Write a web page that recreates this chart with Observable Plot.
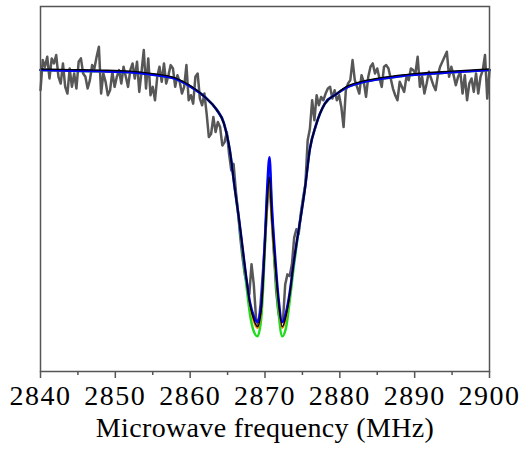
<!DOCTYPE html>
<html>
<head>
<meta charset="utf-8">
<script src="https://cdn.jsdelivr.net/npm/d3@7"></script>
<script src="https://cdn.jsdelivr.net/npm/@observablehq/plot@0.6"></script>
<style>
  body { margin: 0; background: #fff; }
  #chart svg, #chart svg text { font-family: 'Liberation Serif', 'DejaVu Serif', serif !important; }
  #chart g[aria-label="x-axis tick label"] text { letter-spacing: 1.5px; }
  #chart g[aria-label="text"] text { letter-spacing: 0.35px; }
</style>
</head>
<body>
<div id="chart"></div>
<script>
// ---- Data (normalized PL, arbitrary units x1000) ----
const sweepStart = 2840;   // MHz
const sweepStep = 0.3;     // MHz

// measured ODMR signal (gray)
const measuredPL = [
  988, 1006, 1002, 1008, 995, 1007, 1004, 1009, 996, 992, 1004, 990, 986, 1001, 990, 998, 989, 1005, 1007, 998, 996, 989, 994, 1003, 1001, 1008, 1014, 986, 998, 993, 985, 988, 999, 990, 996, 1000,
  992, 1002, 996, 990, 1000, 1004, 995, 1005, 987, 999, 1012, 989, 1007, 985, 990, 982, 996, 1002, 993, 1004, 992, 997, 1003, 1001, 990, 997, 993, 986, 990, 1003, 982, 985,
  980, 996, 998, 983, 979, 986, 974, 960, 962, 972, 963, 969, 966, 955, 957, 963, 950, 940,
  944, 928, 915, 900, 888, 878, 872, 866, 884, 872, 852, 847, 860, 878, 898, 920, 934, 912, 890, 868, 855, 849, 850, 872, 878, 877, 884, 900,
  905, 902, 915, 924, 932, 958, 965, 982, 970, 985, 979, 984, 982, 986, 989, 990, 983, 988, 982, 985, 978, 966, 988, 992,
  994, 1006, 994, 990, 986, 997, 993, 984, 996, 1002, 1004, 998, 1001, 995, 990, 1002, 1003, 1001, 995, 989, 985, 982, 993, 990, 987, 996, 994, 1001, 1000, 998, 1008,
  990, 996, 986, 992, 999, 995, 991, 988, 997, 1002, 1005, 1008, 1011, 996, 1002, 997, 991, 996, 999, 986, 997, 982, 992, 995, 987, 998, 986, 996, 1000, 1009, 983, 1000
];

// fitted curves, read at these frequencies
const fitFreq = [2840, 2844, 2848, 2852, 2855, 2858, 2860, 2862, 2863.5, 2864.5, 2865.3, 2866, 2866.5, 2867, 2867.5, 2868, 2868.5, 2869, 2869.5, 2870, 2870.3, 2870.6, 2870.9, 2871.3, 2871.8, 2872.3, 2872.8, 2873.3, 2873.8, 2874.3, 2874.8, 2875.3, 2876, 2876.8, 2878, 2879.5, 2881, 2883, 2886, 2890, 2895, 2900];
const fitGreen = [1000, 999.6, 999.3, 998.7, 997.2, 994.8, 990.3, 983.8, 976.6, 968.3, 952, 928, 911, 892, 872, 854, 844, 841, 852, 895, 926, 942, 916, 886, 856, 841, 846, 862, 881, 898, 913, 928, 953, 967, 980, 985.6, 989.8, 992.7, 995.1, 997.2, 998.7, 1000];
const fitOrange = [1000, 999.6, 999.3, 998.7, 997.2, 994.8, 990.3, 983.8, 976.6, 968.3, 952, 928, 912, 894, 876, 860, 850, 846, 857, 897, 922, 936, 912, 888, 862, 846, 852, 866, 884, 899, 913, 928, 953, 967, 980, 985.6, 989.8, 992.7, 995.1, 997.2, 998.7, 1000];
const fitBlue = [1000, 999.6, 999.3, 998.7, 997.2, 994.8, 990.3, 983.8, 976.6, 968.3, 952, 928, 912, 894, 876, 861, 853, 849.5, 860, 900, 930, 948, 920, 892, 864, 849.5, 855, 867, 884, 899, 913, 928, 953, 967, 980, 985.6, 989.8, 992.7, 995.1, 997.2, 998.7, 1000];
const fitBlack = [1000.7, 1000.3, 1000, 999.4, 997.9, 995.4, 990.8, 983.8, 976.6, 968.3, 952, 928, 912, 894, 876, 860, 851, 846.8, 857, 897, 922, 936, 912, 888, 862, 846.8, 853, 866, 884, 899, 913, 928, 953, 967, 980, 985.6, 990.4, 993.3, 995.8, 997.9, 999.4, 1000.7];

const majorTicks = [2840, 2850, 2860, 2870, 2880, 2890, 2900];
const minorTicks = [2845, 2855, 2865, 2875, 2885, 2895];
const xLabel = "Microwave frequency (MHz)";

// ---- Tables ----
const measured = measuredPL.map((v, i) => ({f: sweepStart + i * sweepStep, v}));
const fits = fitFreq.map((f, i) => ({f, green: fitGreen[i], orange: fitOrange[i], blue: fitBlue[i], black: fitBlack[i]}));

const serif = "Liberation Serif";

const chart = Plot.plot({
  width: 520,
  height: 455,
  marginTop: 6,
  marginRight: 31,
  marginBottom: 84,
  marginLeft: 40,
  style: {fontFamily: serif, background: "#fff", color: "#000"},
  x: {domain: [2840, 2900]},
  y: {domain: [820, 1038], axis: null},
  marks: [
    Plot.line(measured, {x: "f", y: "v", stroke: "#575757", strokeWidth: 2.5, strokeLinejoin: "round"}),
    Plot.line(fits, {x: "f", y: "green", stroke: "#1fdc1f", strokeWidth: 2.5, curve: "monotone-x"}),
    Plot.line(fits, {x: "f", y: "orange", stroke: "#ff7a00", strokeWidth: 2, curve: "monotone-x"}),
    Plot.line(fits, {x: "f", y: "blue", stroke: "#0000ff", strokeWidth: 2.5, curve: "monotone-x"}),
    Plot.line(fits, {x: "f", y: "black", stroke: "#000", strokeWidth: 1.4, curve: "monotone-x"}),
    Plot.frame({stroke: "#555", strokeWidth: 1.5}),
    Plot.axisX({ticks: majorTicks, tickSize: 7, tickPadding: 7, tickFormat: d => String(d), fontSize: 28, stroke: "#555", strokeWidth: 1.5, label: null}),
    Plot.axisX({ticks: minorTicks, tickSize: 4, text: null, stroke: "#555", strokeWidth: 1.5, label: null}),
    Plot.text([xLabel], {text: d => d, frameAnchor: "bottom", dy: 65, fontSize: 28, fill: "#000"})
  ]
});

document.getElementById("chart").appendChild(chart);
</script>
</body>
</html>
